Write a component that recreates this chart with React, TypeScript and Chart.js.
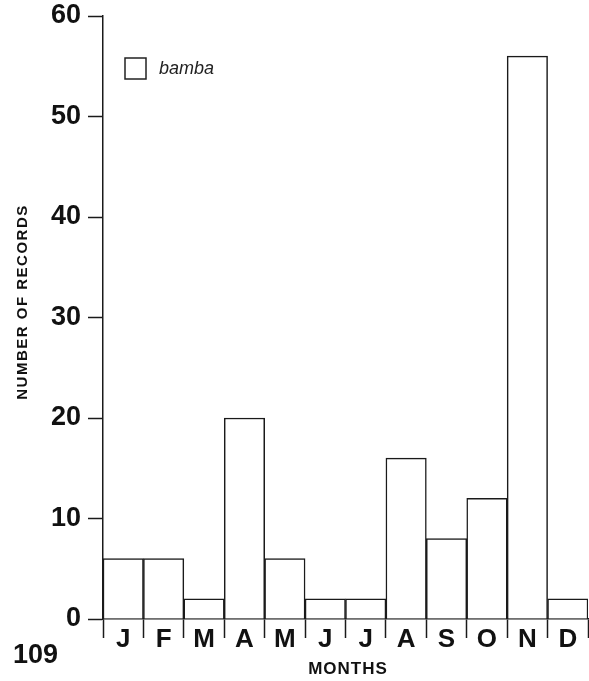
import React, { useEffect, useRef } from "react";
import { Chart, registerables } from "chart.js";

Chart.register(...registerables);

const months = ["J", "F", "M", "A", "M", "J", "J", "A", "S", "O", "N", "D"];
const records = [6, 6, 2, 20, 6, 2, 2, 16, 8, 12, 56, 2];
const seriesLabel = "bamba";
const yTitle = "NUMBER OF RECORDS";
const xTitle = "MONTHS";
const pageNumber = "109";

const FONT = "'Liberation Sans', Arial, Helvetica, sans-serif";

const textPlugin = {
  id: "textPlugin",
  afterDraw(chart: any) {
    const ctx = chart.ctx as CanvasRenderingContext2D;
    ctx.save();
    ctx.fillStyle = "#111";
    // y title
    ctx.save();
    ctx.translate(23, 302);
    ctx.rotate(-Math.PI / 2);
    ctx.font = `bold 15px ${FONT}`;
    (ctx as any).letterSpacing = "1.5px";
    ctx.textAlign = "center";
    ctx.textBaseline = "middle";
    ctx.fillText(yTitle, 0, 0);
    ctx.restore();
    // x title
    ctx.save();
    ctx.font = `bold 17px ${FONT}`;
    (ctx as any).letterSpacing = "1px";
    ctx.textAlign = "center";
    ctx.textBaseline = "middle";
    ctx.fillText(xTitle, 348, 669);
    ctx.restore();
    // page number
    ctx.font = `bold 27px ${FONT}`;
    ctx.textAlign = "left";
    ctx.textBaseline = "middle";
    ctx.fillText(pageNumber, 13, 656);
    // legend
    ctx.strokeStyle = "#222";
    ctx.lineWidth = 1.5;
    ctx.strokeRect(125, 58, 21, 21);
    ctx.font = `italic 18px ${FONT}`;
    ctx.fillStyle = "#222";
    ctx.textBaseline = "middle";
    ctx.fillText(chart.data.datasets[0].label, 159, 69);
    ctx.restore();
  },
};

export default function App() {
  const ref = useRef<HTMLCanvasElement>(null);
  useEffect(() => {
    if (!ref.current) return;
    const chart = new Chart(ref.current, {
      type: "bar",
      data: {
        labels: months,
        datasets: [
          {
            label: seriesLabel,
            data: records,
            backgroundColor: "#ffffff",
            borderColor: "#1a1a1a",
            borderWidth: 1.5,
            barPercentage: 1,
            categoryPercentage: 1,
          },
        ],
      },
      options: {
        responsive: false,
        animation: false,
        layout: { padding: { left: 0, right: 1, top: 16, bottom: 0 } },
        plugins: { legend: { display: false }, tooltip: { enabled: false } },
        scales: {
          x: {
            afterFit: (s: any) => {
              s.height = 62;
              s.paddingLeft = 0;
              s.paddingRight = 0;
            },
            grid: {
              display: true,
              offset: true,
              drawOnChartArea: false,
              tickLength: 19,
              tickColor: "#1a1a1a",
              tickWidth: 1.5,
            },
            border: { display: true, color: "#1a1a1a", width: 1.5 },
            ticks: {
              color: "#111",
              padding: -14,
              font: { family: FONT, weight: "bold", size: 26 },
              maxRotation: 0,
              autoSkip: false,
            },
          },
          y: {
            min: 0,
            max: 60,
            afterFit: (s: any) => {
              s.width = 103;
              s.paddingTop = 0;
              s.paddingBottom = 0;
            },
            grid: {
              display: true,
              drawOnChartArea: false,
              tickLength: 15,
              tickColor: "#1a1a1a",
              tickWidth: 1.5,
            },
            border: { display: true, color: "#1a1a1a", width: 1.5 },
            ticks: {
              stepSize: 10,
              color: "#111",
              padding: 7,
              font: { family: FONT, weight: "bold", size: 27 },
            },
          },
        },
      },
      plugins: [textPlugin],
    });
    return () => chart.destroy();
  }, []);
  return (
    <div style={{ position: "absolute", left: 0, top: 0, width: 589, height: 681, background: "#fff" }}>
      <canvas ref={ref} width={589} height={681} style={{ display: "block" }} />
    </div>
  );
}
